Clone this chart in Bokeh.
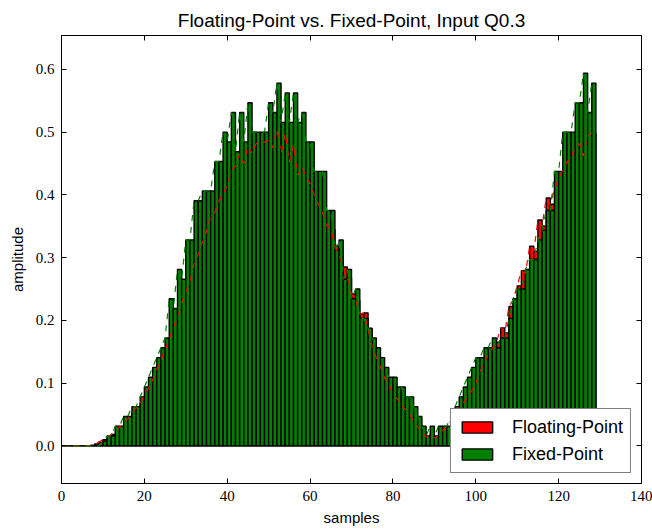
from bokeh.plotting import figure
from bokeh.models import ColumnDataSource, Range1d, LinearAxis, FixedTicker, NumeralTickFormatter, Legend, LegendItem
from bokeh.transform import dodge
from bokeh.embed import file_html
from bokeh.resources import INLINE

samples = list(range(129))

floating_point = [
    0.0, 0.0, 0.0, 0.0, 0.0, 0.0, 0.0, 0.001, 0.003, 0.006,
    0.010, 0.013, 0.018, 0.024, 0.030, 0.036, 0.043, 0.052, 0.060, 0.068,
    0.080, 0.092, 0.105, 0.122, 0.137, 0.153, 0.170, 0.188, 0.205, 0.228,
    0.245, 0.262, 0.290, 0.305, 0.325, 0.342, 0.365, 0.372, 0.390, 0.402,
    0.415, 0.440, 0.446, 0.465, 0.450, 0.478, 0.466, 0.482, 0.482, 0.484,
    0.487, 0.475, 0.505, 0.466, 0.498, 0.452, 0.480, 0.432, 0.445, 0.430,
    0.418, 0.400, 0.385, 0.372, 0.352, 0.345, 0.318, 0.305, 0.285, 0.268,
    0.242, 0.232, 0.210, 0.212, 0.185, 0.158, 0.140, 0.125, 0.108, 0.098,
    0.082, 0.075, 0.065, 0.058, 0.050, 0.040, 0.030, 0.022, 0.014, 0.018,
    0.012, 0.016, 0.025, 0.030, 0.040, 0.052, 0.062, 0.068, 0.078, 0.088,
    0.100, 0.118, 0.132, 0.145, 0.155, 0.165, 0.188, 0.180, 0.222, 0.232,
    0.255, 0.279, 0.275, 0.318, 0.310, 0.360, 0.350, 0.395, 0.385, 0.410,
    0.425, 0.440, 0.452, 0.460, 0.475, 0.482, 0.462, 0.495, 0.498,
]

fixed_point = [
    0.0, 0.0, 0.0, 0.0, 0.0, 0.0, 0.0, 0.0, 0.0, 0.0,
    0.0078, 0.0156, 0.0156, 0.0313, 0.0313, 0.0469, 0.0469, 0.0625, 0.0625, 0.0781,
    0.0938, 0.1094, 0.125, 0.1406, 0.1563, 0.1719, 0.2344, 0.2188, 0.2813, 0.2656,
    0.3281, 0.3281, 0.3906, 0.3906, 0.4063, 0.4063, 0.4063, 0.4531, 0.4531, 0.5,
    0.4844, 0.5313, 0.4688, 0.5313, 0.4844, 0.5469, 0.5, 0.5, 0.5, 0.5,
    0.5469, 0.5313, 0.5781, 0.5156, 0.5625, 0.5156, 0.5625, 0.5156, 0.5313, 0.4844,
    0.4844, 0.4375, 0.4375, 0.4375, 0.375, 0.375, 0.3125, 0.3281, 0.2656, 0.2813,
    0.2344, 0.25, 0.2031, 0.2031, 0.1875, 0.1719, 0.1563, 0.1406, 0.125, 0.1094,
    0.1094, 0.0938, 0.0938, 0.0781, 0.0781, 0.0625, 0.0469, 0.0313, 0.0156, 0.0313,
    0.0156, 0.0313, 0.0313, 0.0313, 0.0469, 0.0625, 0.0781, 0.0938, 0.1094, 0.125,
    0.1406, 0.1406, 0.1563, 0.1563, 0.1719, 0.1563, 0.1719, 0.1719, 0.2031, 0.2344,
    0.25, 0.25, 0.2813, 0.2969, 0.2969, 0.3281, 0.3438, 0.375, 0.375, 0.4375,
    0.4375, 0.5, 0.5, 0.5, 0.5469, 0.5469, 0.5938, 0.5313, 0.5781,
]

x_ticks = [0, 20, 40, 60, 80, 100, 120, 140]
y_ticks = [0.0, 0.1, 0.2, 0.3, 0.4, 0.5, 0.6]

source = ColumnDataSource(dict(sample=samples, flt=floating_point, fix=fixed_point))

p = figure(
    width=652, height=529, output_backend="svg", toolbar_location=None,
    x_range=Range1d(0, 140), y_range=Range1d(-0.06, 0.654),
    min_border_left=61, min_border_right=11, min_border_top=35, min_border_bottom=46,
    background_fill_color="white", border_fill_color="white",
)
p.grid.visible = False
p.outline_line_color = "black"
p.outline_line_width = 1

p.title.text = "Floating-Point vs. Fixed-Point, Input Q0.3"
p.title.align = "center"
p.title.text_font = "Liberation Sans"
p.title.text_font_size = "19px"
p.title.text_font_style = "normal"
p.title.text_color = "black"

bx = dodge("sample", 0.5, range=p.x_range)
r_flt = p.vbar(x=bx, width=1, top="flt", bottom=0, source=source,
               fill_color="#ff0000", line_color="black", line_width=1.4)
r_fix = p.vbar(x=bx, width=1, top="fix", bottom=0, source=source,
               fill_color="#008000", line_color="black", line_width=1.4)
p.line(x="sample", y="flt", source=source, line_color="#ff0000", line_width=1.2, line_dash="6 6")
p.line(x="sample", y="fix", source=source, line_color="#008000", line_width=1.2, line_dash="6 6")

def style_axis(ax, show_labels=True):
    ax.major_tick_in = 5
    ax.major_tick_out = 0
    ax.minor_tick_line_color = None
    ax.axis_line_color = "black"
    ax.major_tick_line_color = "black"
    ax.major_label_text_font = "Liberation Serif"
    ax.major_label_text_font_size = "15px" if show_labels else "0px"
    ax.major_label_text_color = "black"
    ax.major_label_standoff = 7 if show_labels else 0
    ax.axis_label_text_font = "Liberation Sans"
    ax.axis_label_text_font_size = "15px"
    ax.axis_label_text_font_style = "normal"
    ax.axis_label_text_color = "black"

xax = p.xaxis[0]
yax = p.yaxis[0]
xax.ticker = FixedTicker(ticks=x_ticks)
yax.ticker = FixedTicker(ticks=y_ticks)
yax.formatter = NumeralTickFormatter(format="0.0")
xax.axis_label = "samples"
yax.axis_label = "amplitude"
style_axis(xax)
style_axis(yax)
xax.axis_label_standoff = 5
yax.axis_label_standoff = 7

top_ax = LinearAxis(ticker=FixedTicker(ticks=x_ticks))
right_ax = LinearAxis(ticker=FixedTicker(ticks=y_ticks))
style_axis(top_ax, False)
style_axis(right_ax, False)
p.add_layout(top_ax, "above")
p.add_layout(right_ax, "right")

legend = Legend(items=[LegendItem(label="Floating-Point", renderers=[r_flt]),
                       LegendItem(label="Fixed-Point", renderers=[r_fix])],
                location="bottom_right")
legend.margin = 10
legend.padding = 7
legend.spacing = 5
legend.glyph_width = 38
legend.glyph_height = 14
legend.label_height = 22
legend.label_standoff = 16
legend.label_text_font = "Liberation Sans"
legend.label_text_font_size = "18px"
legend.label_text_color = "black"
legend.border_line_color = "black"
legend.border_line_width = 1
legend.background_fill_color = "white"
legend.background_fill_alpha = 1.0
p.add_layout(legend, "center")

open("out.html", "w").write(file_html(p, INLINE))
